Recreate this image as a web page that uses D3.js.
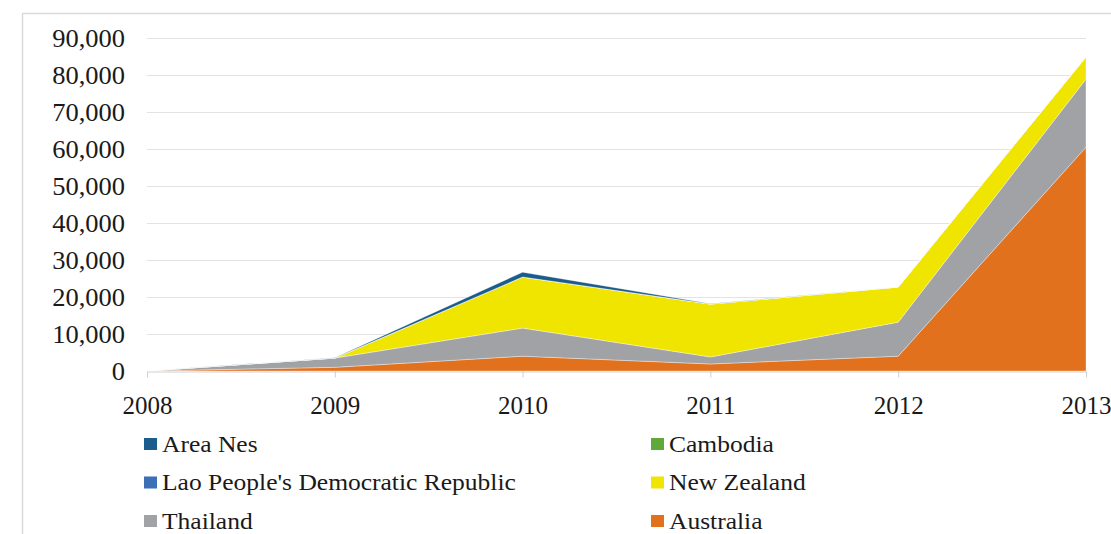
<!DOCTYPE html>
<html>
<head>
<meta charset="utf-8">
<script src="https://cdn.jsdelivr.net/npm/d3@7"></script>
<style>
  body { margin: 0; background: #fff; }
</style>
</head>
<body>
<svg id="chart" width="1111" height="534"></svg>
<script>
// years on x axis
var years = [2008, 2009, 2010, 2011, 2012, 2013];

// series, bottom of stack first
var australia  = [0, 1000, 4000, 1900, 4000, 60500];
var thailand   = [0, 2500, 7600, 1900, 9200, 18400];
var newZealand = [0, 0, 13800, 14300, 9500, 6000];
var lao        = [0, 0, 0, 0, 0, 0];
var cambodia   = [0, 0, 0, 0, 0, 0];
var areaNes    = [0, 100, 1300, 100, 0, 0];

var seriesNames = ["Australia", "Thailand", "New Zealand",
                   "Lao People's Democratic Republic", "Cambodia", "Area Nes"];
var seriesValues = [australia, thailand, newZealand, lao, cambodia, areaNes];
var colors = ["#e2711d", "#a0a2a5", "#f0e500", "#3b6fb6", "#5fa83a", "#1a5c8c"];

var yTicks = [0, 10000, 20000, 30000, 40000, 50000, 60000, 70000, 80000, 90000];

// legend order as in the picture (row by row)
var legendOrder = ["Area Nes", "Cambodia", "Lao People's Democratic Republic",
                   "New Zealand", "Thailand", "Australia"];

var serif = "'Liberation Serif', 'Times New Roman', serif";

var svg = d3.select("#chart");

// frame
svg.append("path")
   .attr("d", "M22.5,534 V13.5 H1111")
   .attr("fill", "none")
   .attr("stroke", "#d9d9d9")
   .attr("stroke-width", 1.5);

var x = d3.scaleLinear().domain([2008, 2013]).range([147, 1086]);
var y = d3.scaleLinear().domain([0, 90000]).range([371, 38]);

// gridlines
svg.append("g")
   .selectAll("line")
   .data(yTicks.slice(1))
   .enter()
     .append("line")
     .attr("x1", x(2008))
     .attr("x2", x(2013))
     .attr("y1", function(d){ return Math.round(y(d)) + 0.5; })
     .attr("y2", function(d){ return Math.round(y(d)) + 0.5; })
     .attr("stroke", "#e3e3e3");

// stack data
var table = years.map(function(yr, i){
  var row = { year: yr };
  seriesNames.forEach(function(n, k){ row[n] = seriesValues[k][i]; });
  return row;
});
var stacked = d3.stack().keys(seriesNames)(table);

var area = d3.area()
  .x(function(d){ return x(d.data.year); })
  .y0(function(d){ return y(d[0]); })
  .y1(function(d){ return y(d[1]); });

svg.append("g")
   .selectAll("path")
   .data(stacked)
   .enter()
     .append("path")
     .attr("d", area)
     .attr("fill", function(d, i){ return colors[i]; })
     .attr("stroke", "rgba(255,255,255,0.5)")
     .attr("stroke-width", 0.7);

// x axis
var xAxis = d3.axisBottom(x)
  .tickValues(years)
  .tickFormat(d3.format("d"))
  .tickSizeInner(6)
  .tickSizeOuter(0)
  .tickPadding(19);

var gx = svg.append("g")
   .attr("transform", "translate(0," + 371.5 + ")")
   .call(xAxis);
gx.attr("font-family", serif);
gx.select(".domain").attr("stroke", "#d0d0d0");
gx.selectAll(".tick line").attr("stroke", "#d0d0d0");
gx.selectAll("text")
  .style("font-family", serif)
  .style("font-size", "25px")
  .attr("fill", "#1a1a1a");

// y axis (labels only)
var yAxis = d3.axisLeft(y)
  .tickValues(yTicks)
  .tickFormat(d3.format(","))
  .tickSize(0)
  .tickPadding(22);

var gy = svg.append("g")
   .attr("transform", "translate(147,0)")
   .call(yAxis);
gy.attr("font-family", serif);
gy.select(".domain").remove();
gy.selectAll("text")
  .attr("x", 0)
  .attr("transform", "translate(-22,0) scale(1.06,1)")
  .style("font-family", serif)
  .style("font-size", "25px")
  .attr("fill", "#1a1a1a");

// legend
var colorOf = {};
seriesNames.forEach(function(n, k){ colorOf[n] = colors[k]; });

var legend = svg.append("g")
  .selectAll("g")
  .data(legendOrder)
  .enter()
    .append("g")
    .attr("transform", function(d, i){
      var col = i % 2, row = Math.floor(i / 2);
      return "translate(" + (col ? 651 : 144) + "," + (438 + row * 38.5) + ")";
    });

legend.append("rect")
  .attr("x", 0).attr("y", 0)
  .attr("width", 13).attr("height", 12)
  .attr("fill", function(d){ return colorOf[d]; });

legend.append("text")
  .attr("transform", "translate(18,13.5) scale(1.11,1)")
  .style("font-family", serif)
  .style("font-size", "23px")
  .attr("fill", "#1a1a1a")
  .text(function(d){ return d; });
</script>
</body>
</html>
